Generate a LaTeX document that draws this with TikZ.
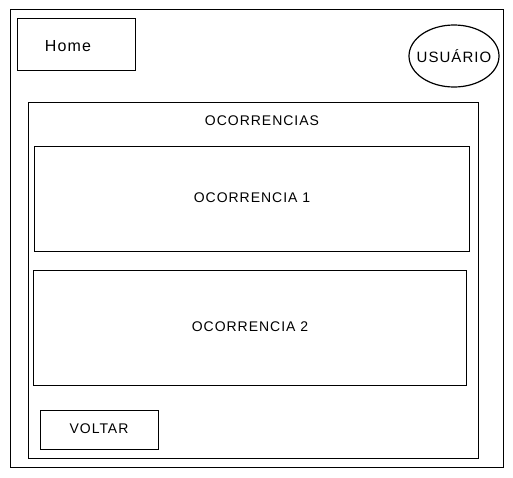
\documentclass[tikz,border=0pt]{standalone}
\usepackage{fontspec}
\setmainfont[LetterSpace=7]{Liberation Sans}
\usetikzlibrary{shapes.geometric}

\tikzset{
  box/.style={draw, line width=1.2pt, inner sep=0pt, anchor=north west},
  txt/.style={inner sep=0pt}
}

\begin{document}
\begin{tikzpicture}[x=1pt,y=-1pt]
\useasboundingbox (0,0) rectangle (513,477);
{\fontsize{14}{16}\selectfont

% Drawing the page frame
\node[box, minimum width=493pt, minimum height=458pt] (frame) at (10,9) {};

% Drawing the header
\node[box, minimum width=118pt, minimum height=52pt] (home) at (17,18) {};
\node[txt, font=\fontsize{16}{18}\selectfont] (homelabel) at (68,46) {Home};
\node[draw, ellipse, line width=1.2pt, inner sep=0pt, minimum width=90pt, minimum height=62pt] (user) at (454,56) {};
\node[txt, font=\fontsize{15}{17}\selectfont] (userlabel) at (454,56) {USUÁRIO};

% Drawing the list panel
\node[box, minimum width=450pt, minimum height=356pt] (panel) at (28,102) {};
\node[txt] (paneltitle) at (262,121) {OCORRENCIAS};

% Drawing the items
\node[box, minimum width=435pt, minimum height=105pt] (item1) at (34,146) {};
\node[txt] (item1label) at (252,198) {OCORRENCIA 1};
\node[box, minimum width=433pt, minimum height=115pt] (item2) at (33,270) {};
\node[txt] (item2label) at (250,327) {OCORRENCIA 2};

% Drawing the back button
\node[box, minimum width=118pt, minimum height=39pt] (back) at (40,410) {};
\node[txt] (backlabel) at (99,429) {VOLTAR};
}
\end{tikzpicture}
\end{document}
